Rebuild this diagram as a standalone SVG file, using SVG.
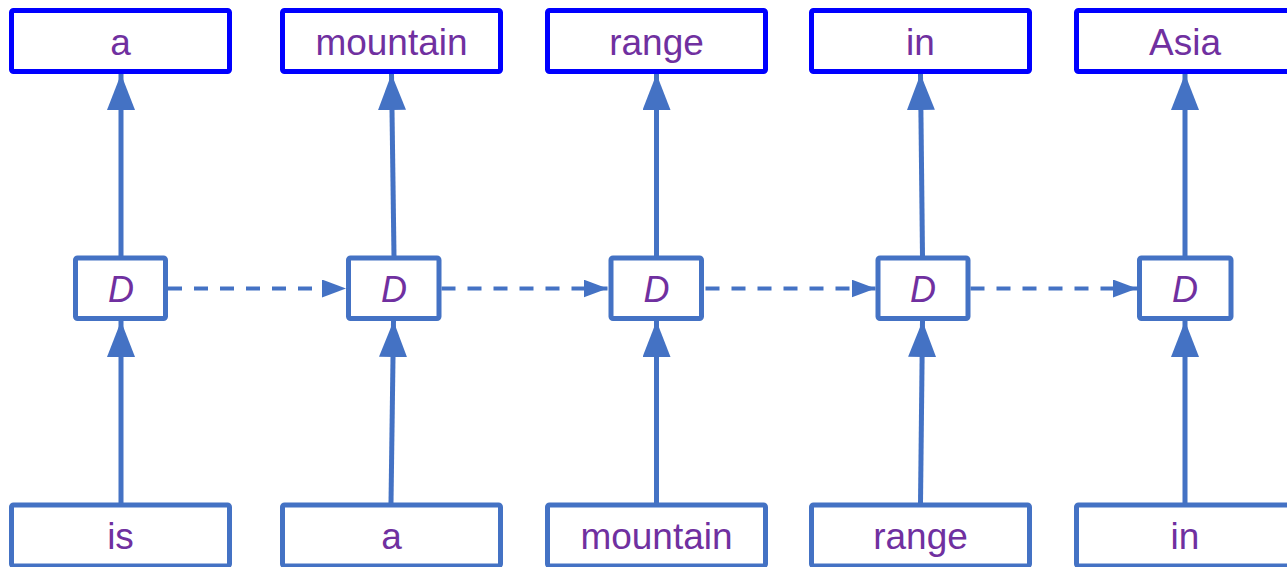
<svg xmlns="http://www.w3.org/2000/svg" width="1287" height="567" viewBox="0 0 1287 567">
  <style>
    .out rect { fill: #ffffff; stroke: #0000ff; stroke-width: 5; }
    .inp rect, .dec rect { fill: #ffffff; stroke: #4472c4; stroke-width: 5; }
    text { font-family: "Liberation Sans", Arial, sans-serif; fill: #7030a0; text-anchor: middle; }
    .word { font-size: 37px; }
    .dec text { font-size: 36px; font-style: italic; }
    .up { stroke: #4472c4; stroke-width: 5; fill: none; marker-end: url(#bigHead); }
    .rec { stroke: #4472c4; stroke-width: 4; fill: none; stroke-dasharray: 14 12; marker-end: url(#smallHead); }
  </style>
  <defs>
    <marker id="bigHead" viewBox="0 0 36 28" refX="36" refY="14" markerWidth="36" markerHeight="28" markerUnits="userSpaceOnUse" orient="auto">
      <path d="M0,0 L36,14 L0,28 Z" fill="#4472c4"/>
    </marker>
    <marker id="smallHead" viewBox="0 0 24 18" refX="24" refY="9" markerWidth="24" markerHeight="18" markerUnits="userSpaceOnUse" orient="auto">
      <path d="M0,0 L24,9 L0,18 Z" fill="#4472c4"/>
    </marker>
  </defs>

  <!-- connectors -->
  <g id="connectors">
    <!-- input to decoder -->
    <line class="up" x1="121" y1="503" x2="121" y2="321"/>
    <line class="up" x1="391" y1="503" x2="393.5" y2="321"/>
    <line class="up" x1="656.5" y1="503" x2="656.5" y2="321"/>
    <line class="up" x1="920.5" y1="503" x2="922.5" y2="321"/>
    <line class="up" x1="1185" y1="503" x2="1185" y2="321"/>
    <!-- decoder to output -->
    <line class="up" x1="121" y1="256" x2="121" y2="74"/>
    <line class="up" x1="394" y1="256" x2="391.5" y2="74"/>
    <line class="up" x1="656.5" y1="256" x2="656.5" y2="74"/>
    <line class="up" x1="922.5" y1="256" x2="920.5" y2="74"/>
    <line class="up" x1="1185" y1="256" x2="1185" y2="74"/>
    <!-- recurrent state -->
    <line class="rec" x1="168" y1="288.5" x2="346" y2="288.5"/>
    <line class="rec" x1="441.5" y1="288.5" x2="607.5" y2="288.5"/>
    <line class="rec" x1="705.5" y1="288.5" x2="875.5" y2="288.5"/>
    <line class="rec" x1="970.5" y1="288.5" x2="1137" y2="288.5"/>
  </g>

  <!-- output words -->
  <g id="out1" class="out"><rect x="11.5" y="10.5" width="218" height="61" rx="2"/><text class="word" x="120.5" y="55">a</text></g>
  <g id="out2" class="out"><rect x="282.5" y="10.5" width="218" height="61" rx="2"/><text class="word" x="391.5" y="55">mountain</text></g>
  <g id="out3" class="out"><rect x="547.5" y="10.5" width="218" height="61" rx="2"/><text class="word" x="656.5" y="55">range</text></g>
  <g id="out4" class="out"><rect x="811.5" y="10.5" width="218" height="61" rx="2"/><text class="word" x="920.5" y="55">in</text></g>
  <g id="out5" class="out"><rect x="1076.5" y="10.5" width="218" height="61" rx="2"/><text class="word" x="1185" y="55">Asia</text></g>

  <!-- decoder steps -->
  <g id="dec1" class="dec"><rect x="75.5" y="258" width="90" height="60.5" rx="2"/><text x="121" y="302">D</text></g>
  <g id="dec2" class="dec"><rect x="348.5" y="258" width="90.5" height="60.5" rx="2"/><text x="394" y="302">D</text></g>
  <g id="dec3" class="dec"><rect x="611" y="258" width="90.5" height="60.5" rx="2"/><text x="656.5" y="302">D</text></g>
  <g id="dec4" class="dec"><rect x="878" y="258" width="90" height="60.5" rx="2"/><text x="923" y="302">D</text></g>
  <g id="dec5" class="dec"><rect x="1139.5" y="258" width="91.5" height="60.5" rx="2"/><text x="1185" y="302">D</text></g>

  <!-- input words -->
  <g id="in1" class="inp"><rect x="11.5" y="505" width="218" height="61" rx="2"/><text class="word" x="120.5" y="549">is</text></g>
  <g id="in2" class="inp"><rect x="282.5" y="505" width="218" height="61" rx="2"/><text class="word" x="391.5" y="549">a</text></g>
  <g id="in3" class="inp"><rect x="547.5" y="505" width="218" height="61" rx="2"/><text class="word" x="656.5" y="549">mountain</text></g>
  <g id="in4" class="inp"><rect x="811.5" y="505" width="218" height="61" rx="2"/><text class="word" x="920.5" y="549">range</text></g>
  <g id="in5" class="inp"><rect x="1076.5" y="505" width="218" height="61" rx="2"/><text class="word" x="1185" y="549">in</text></g>
</svg>
